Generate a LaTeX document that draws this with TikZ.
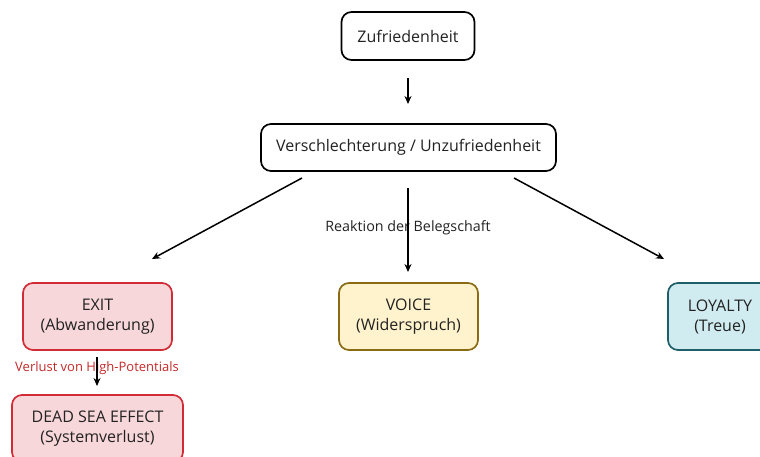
\documentclass[tikz,border=0pt]{standalone}
\usepackage{fontspec}
\setmainfont{Open Sans}
\usetikzlibrary{arrows.meta}
\definecolor{exitfill}{HTML}{F8D7DA}
\definecolor{exitdraw}{HTML}{D12B35}
\definecolor{voicefill}{HTML}{FFF3CD}
\definecolor{voicedraw}{HTML}{8A6A12}
\definecolor{loyfill}{HTML}{D1ECF1}
\definecolor{loydraw}{HTML}{1D5E69}
\definecolor{lblred}{HTML}{C62828}
\definecolor{txt}{HTML}{222222}
\tikzset{
  box/.style={draw=black, line width=1.7pt, rounded corners=10pt, fill=white, align=center,
    font=\fontsize{16}{20}\selectfont, text=txt, inner sep=0pt},
  arr/.style={-{Stealth[length=8pt,width=7pt]}, line width=1.5pt},
  lbl/.style={font=\fontsize{13}{15}\selectfont, text=txt, inner sep=1pt}
}
\begin{document}
\begin{tikzpicture}[x=1pt,y=-1pt]
\useasboundingbox (0,0) rectangle (760,457);
\node[box, minimum width=133pt, minimum height=48pt] (zuf) at (408,36) {Zufriedenheit};
\node[box, minimum width=295pt, minimum height=47pt] (ver) at (408.5,147.5) {Verschlechterung / Unzufriedenheit};
\node[box, fill=exitfill, draw=exitdraw, minimum width=149pt, minimum height=67pt] (exit) at (97.5,316.5) {EXIT\\(Abwanderung)};
\node[box, fill=voicefill, draw=voicedraw, minimum width=139pt, minimum height=67pt] (voice) at (408.5,316.5) {VOICE\\(Widerspruch)};
\node[box, fill=loyfill, draw=loydraw, minimum width=104pt, minimum height=67pt] (loy) at (720,316.5) {LOYALTY\\(Treue)};
\node[box, fill=exitfill, draw=exitdraw, minimum width=171pt, minimum height=67pt] (dead) at (97.5,428.5) {DEAD SEA EFFECT\\(Systemverlust)};
\coordinate (a1s) at (408,78); \coordinate (a1e) at (408,104);
\draw[arr] (a1s) -- (a1e);
\coordinate (l1) at (302,178); \coordinate (l2) at (152,259);
\coordinate (m1) at (408,188); \coordinate (m2) at (408,272);
\coordinate (r1) at (514,178); \coordinate (r2) at (664,259);
\draw[arr] (l1) -- (l2);
\draw[arr] (r1) -- (r2);
\node[lbl, font=\fontsize{14.3}{16}\selectfont] (reak) at (408,228) {Reaktion der Belegschaft};
\draw[arr] (m1) -- (m2);
\coordinate (e1) at (97,357); \coordinate (e2) at (97,386);
\node[lbl, text=lblred] (verl) at (97,368) {Verlust von High-Potentials};
\draw[arr] (e1) -- (e2);
\end{tikzpicture}
\end{document}
